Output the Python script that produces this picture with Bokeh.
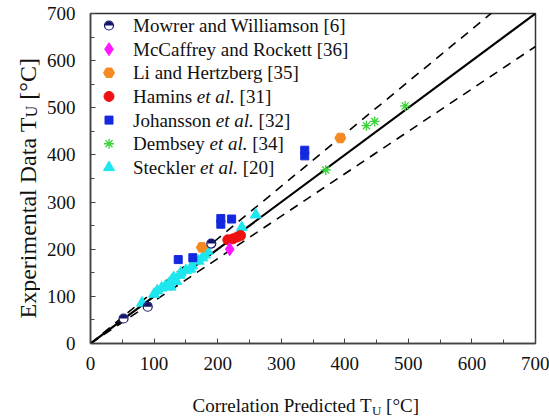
import math
from bokeh.plotting import figure
from bokeh.layouts import row, column
from bokeh.models import Label, SingleIntervalTicker, Range1d
from bokeh.core.properties import value
from bokeh.embed import file_html
from bokeh.resources import INLINE

# ---------------- data ----------------
mowrer_x = [52, 90, 190]
mowrer_y = [53, 78, 212]
mccaffrey_x = [219]
mccaffrey_y = [200]
li_x = [175, 393]
li_y = [204, 436]
hamins_x = [216, 224, 231, 236]
hamins_y = [220, 222, 226, 229]
johansson_x = [138, 161, 205, 205, 222, 337, 337]
johansson_y = [178, 182, 253, 265, 264, 398, 410]
dembsey_x = [370, 434, 447, 495]
dembsey_y = [368, 462, 471, 504]
steckler_x = [81, 100, 105, 112, 118, 124, 126, 128, 131, 135, 140, 142, 150,
              157, 160, 170, 176, 180, 184, 238, 260]
steckler_y = [86, 105, 112, 118, 122, 128, 120, 135, 140, 132, 145, 150, 155,
              158, 165, 175, 182, 188, 196, 246, 273]

ref_x = [0, 700]
band_lo = 0.9
band_hi = 1 / 0.9

x_title = ["Correlation Predicted T", "U", "[°C]"]
y_title = ["Experimental Data T", "U", "[°C]"]

# ---------------- layout ----------------
W, H = 549, 419
YT_W = 40            # strip for the y-axis title
XT_H = 34            # strip for the x-axis title
MW, MH = W - YT_W, H - XT_H
FL, FR, FT = 90, 14, 13
FB = 42
FW, FH = W - FL - FR, MH - FT - FB
FONT = "Liberation Serif"


def px2x(px):
    return (px - FL) * 700.0 / FW


def py2y(py):
    return 700.0 - (py - FT) * 700.0 / FH


ROMAN = {' ': 250, '.': 250, '[': 333, ']': 333, '°': 400,
         'A': 722, 'C': 667, 'D': 722, 'E': 611, 'H': 722, 'J': 389, 'L': 611,
         'M': 889, 'P': 556, 'R': 667, 'S': 556, 'T': 611, 'U': 722, 'W': 944,
         'a': 444, 'b': 500, 'c': 444, 'd': 500, 'e': 444, 'f': 333, 'g': 500,
         'h': 500, 'i': 278, 'k': 500, 'l': 278, 'm': 778, 'n': 500, 'o': 500,
         'p': 500, 'r': 333, 's': 389, 't': 278, 'w': 722, 'x': 500, 'y': 500,
         'z': 444}
for d in "0123456789":
    ROMAN[d] = 500
ITALIC = dict(ROMAN)
ITALIC.update({'a': 500, 'e': 444, 't': 278, 'l': 278})


def tw(s, size, italic=False):
    table = ITALIC if italic else ROMAN
    return sum(table.get(ch, 500) for ch in s) / 1000.0 * size


p = figure(width=MW, height=MH, x_range=(0, 700), y_range=(0, 700),
           output_backend="svg", toolbar_location=None,
           min_border_left=FL - YT_W, min_border_right=FR, min_border_top=FT,
           min_border_bottom=FB, background_fill_color="white",
           border_fill_color="white")
p.xgrid.visible = False
p.ygrid.visible = False
p.outline_line_color = "#333333"
p.outline_line_width = 1.5

for ax in (p.xaxis[0], p.yaxis[0]):
    ax.ticker = SingleIntervalTicker(interval=100, num_minor_ticks=2)
    ax.major_tick_in = 5
    ax.major_tick_out = 0
    ax.minor_tick_in = 4
    ax.minor_tick_out = 0
    ax.major_tick_line_color = "#444444"
    ax.minor_tick_line_color = "#444444"
    ax.axis_line_color = "#444444"
    ax.axis_line_width = 1.5
    ax.major_label_text_font = FONT
    ax.major_label_text_font_size = "19px"
    ax.major_label_text_color = "#111111"
p.xaxis.major_label_standoff = 13
p.yaxis.major_label_standoff = 15

# reference lines
p.line(ref_x, ref_x, line_color="black", line_width=2.2)
p.line(ref_x, [v * band_lo for v in ref_x], line_color="black",
       line_width=1.6, line_dash="9 7")
p.line(ref_x, [v * band_hi for v in ref_x], line_color="black",
       line_width=1.6, line_dash="9 7")

NAVY = "#14146e"
MAG = "#ff18ff"
ORANGE = "#f58a23"
RED = "#ee1111"
BLUE = "#1428e0"
GREEN = "#3ad43a"
CYAN = "#1ee6ee"


def mowrer(xs, ys):
    p.scatter(xs, ys, marker="circle", size=9, fill_color="white",
              line_color=NAVY, line_width=1.2)
    p.wedge(xs, ys, radius=4.2, radius_units="screen", start_angle=0,
            end_angle=math.pi, fill_color=NAVY, line_color=None)


def marker(kind, xs, ys):
    if kind == "mowrer":
        mowrer(xs, ys)
    elif kind == "mccaffrey":
        p.scatter(xs, ys, marker="diamond", size=13, fill_color=MAG,
                  line_color=MAG)
    elif kind == "li":
        p.scatter(xs, ys, marker="hex", size=11, fill_color=ORANGE,
                  line_color=ORANGE)
    elif kind == "hamins":
        p.scatter(xs, ys, marker="circle", size=10, fill_color=RED,
                  line_color=RED)
    elif kind == "johansson":
        p.scatter(xs, ys, marker="square", size=8, fill_color=BLUE,
                  line_color=BLUE)
    elif kind == "dembsey":
        p.scatter(xs, ys, marker="asterisk", size=10, line_color=GREEN,
                  line_width=1.3)
    elif kind == "steckler":
        p.scatter(xs, ys, marker="triangle", size=11, fill_color=CYAN,
                  line_color=CYAN)


marker("steckler", steckler_x, steckler_y)
marker("johansson", johansson_x, johansson_y)
marker("li", li_x, li_y)
marker("mowrer", mowrer_x, mowrer_y)
marker("hamins", hamins_x, hamins_y)
marker("mccaffrey", mccaffrey_x, mccaffrey_y)
marker("dembsey", dembsey_x, dembsey_y)

# ---------------- legend (manual, to allow italic "et al.") ----------------
legend_items = [
    ("mowrer", [("Mowrer and Williamson [6]", False)]),
    ("mccaffrey", [("McCaffrey and Rockett [36]", False)]),
    ("li", [("Li and Hertzberg [35]", False)]),
    ("hamins", [("Hamins ", False), ("et al.", True), (" [31]", False)]),
    ("johansson", [("Johansson ", False), ("et al.", True), (" [32]", False)]),
    ("dembsey", [("Dembsey ", False), ("et al.", True), (" [34]", False)]),
    ("steckler", [("Steckler ", False), ("et al.", True), (" [20]", False)]),
]
LEG_Y0, LEG_DY = 25.0, 23.65
SW_X, TX_X = 108.5, 132.5
LEG_FS = 19
for i, (kind, segs) in enumerate(legend_items):
    cy = LEG_Y0 + i * LEG_DY
    marker(kind, [px2x(SW_X)], [py2y(cy)])
    xpos = TX_X
    for text, ital in segs:
        lead = len(text) - len(text.lstrip(" "))
        xpos += tw(" " * lead, LEG_FS, ital)
        core = text.strip(" ")
        p.add_layout(Label(x=px2x(xpos), y=py2y(cy), text=core,
                           text_font=FONT, text_font_size=f"{LEG_FS}px",
                           text_font_style="italic" if ital else "normal",
                           text_baseline="middle", text_align="left",
                           text_color="#111111"))
        xpos += tw(core, LEG_FS, ital)
        trail = len(text) - len(text.rstrip(" "))
        xpos += tw(" " * trail, LEG_FS, ital)


def strip_fig(w, h, x_range, y_range):
    f = figure(width=w, height=h, x_range=x_range, y_range=y_range,
               output_backend="svg", toolbar_location=None, min_border=0,
               background_fill_color="white", border_fill_color="white")
    f.axis.visible = False
    f.grid.visible = False
    f.outline_line_color = None
    return f


# ---------------- x-axis title strip (frame lines up with the plot's frame,
# so it shares the plot's x range) ----------------
XT_FS, XSUB_FS = 19, 13
xt = strip_fig(MW, XT_H, p.x_range, Range1d(XT_H, 0))
x_start = 192
x_base = 405 - MH
x_anchor = x_start + tw(x_title[0], XT_FS)
x_after = x_anchor + tw(x_title[1], XSUB_FS) + tw(" ", XT_FS)
xt.text(x=[px2x(x_start)], y=[x_base], text=[x_title[0]],
        text_font=value(FONT), text_font_size=f"{XT_FS}px", text_align="left",
        text_baseline="alphabetic", text_color="#111111")
xt.text(x=[px2x(x_anchor)], y=[x_base + 5], text=[x_title[1]],
        text_font=value(FONT), text_font_size=f"{XSUB_FS}px",
        text_align="left", text_baseline="alphabetic", text_color="#111111")
xt.text(x=[px2x(x_after)], y=[x_base], text=[x_title[2]],
        text_font=value(FONT), text_font_size=f"{XT_FS}px", text_align="left",
        text_baseline="alphabetic", text_color="#111111")

# ---------------- y-axis title strip ----------------
YT_FS, YSUB_FS = 24, 16
yt = strip_fig(YT_W, H, Range1d(0, YT_W), Range1d(H, 0))
y_start = 318
y_base = 27
y_anchor = y_start - tw(y_title[0], YT_FS)
y_after = y_anchor - tw(y_title[1], YSUB_FS) - tw(" ", YT_FS)
yt.text(x=[y_base], y=[y_start], text=[y_title[0]], text_font=value(FONT),
        text_font_size=f"{YT_FS}px", text_align="left",
        text_baseline="alphabetic", angle=math.pi / 2, text_color="#111111")
yt.text(x=[y_base + 4], y=[y_anchor], text=[y_title[1]], text_font=value(FONT),
        text_font_size=f"{YSUB_FS}px", text_align="left",
        text_baseline="alphabetic", angle=math.pi / 2, text_color="#111111")
yt.text(x=[y_base], y=[y_after], text=[y_title[2]], text_font=value(FONT),
        text_font_size=f"{YT_FS}px", text_align="left",
        text_baseline="alphabetic", angle=math.pi / 2, text_color="#111111")

layout = row(yt, column(p, xt, spacing=0), spacing=0)
open("out.html", "w").write(file_html(layout, INLINE))
